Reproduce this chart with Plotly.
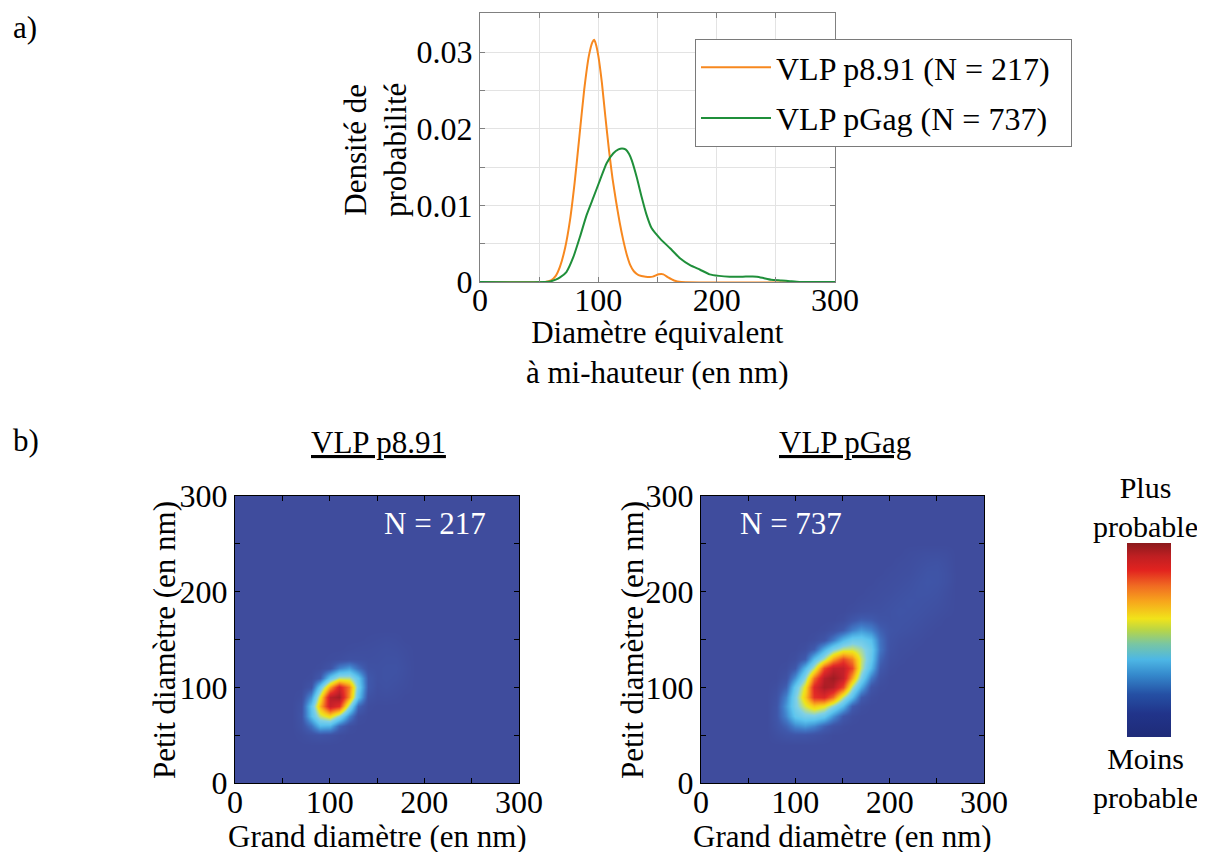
import plotly.graph_objects as go

W, H = 1205, 852
FONT = "Liberation Serif"
OFF = 8  # the page body adds an 8 px margin; place items in window pixels

# ---------------- panel a data ----------------
p891_x = [0, 55, 60, 64, 67.6, 72, 76, 80, 84, 88, 92, 95, 96.5, 98, 100, 103, 106, 109, 112,
          115, 118, 121, 124, 127, 130, 134, 140, 146, 151, 155, 159, 164, 170, 300]
p891_y = [0, 0, 0.0002, 0.0008, 0.002, 0.0045, 0.008, 0.013, 0.019, 0.025, 0.0295, 0.0313,
          0.0316, 0.031, 0.0295, 0.026, 0.0215, 0.0172, 0.0135, 0.0105, 0.0078, 0.0055,
          0.0036, 0.0022, 0.0014, 0.0009, 0.0007, 0.0007, 0.0010, 0.0010, 0.0006, 0.0002, 0, 0]

pgag_x = [0, 55, 60, 64, 67.6, 73, 79, 84.5, 90, 96, 101.4, 107, 112.7, 117, 120, 123, 126,
          128.2, 132.4, 136.6, 140.9, 145.1, 152, 160.6, 169, 177.5, 186, 194, 202, 211, 222,
          234, 240, 246, 255, 262, 270, 300]
pgag_y = [0, 0, 0.0001, 0.0003, 0.0006, 0.0013, 0.0033, 0.0059, 0.0087, 0.0111, 0.0133,
          0.0155, 0.0168, 0.0173, 0.01743, 0.0173, 0.0167, 0.0159, 0.0137, 0.0111, 0.0087,
          0.0070, 0.0057, 0.0044, 0.0031, 0.0022, 0.0016, 0.0010, 0.0008, 0.0007, 0.0007,
          0.0007, 0.0005, 0.0003, 0.0002, 0.0001, 0, 0]

# ---------------- panel b data (relative density, 10 nm grid) ----------------
grid_nm = list(range(0, 301, 10))

p891_cols = list(range(60, 190, 10))   # 60..180
p891_rows = list(range(50, 160, 10))   # 50..150
p891_dens = [
    [0, .007, .026, .038, .027, .007, 0, 0, 0, 0, 0, 0, 0],
    [0, .025, .12, .27, .255, .094, .017, 0, 0, 0, 0, 0, 0],
    [0, .038, .28, .48, .56, .417, .17, .016, 0, 0, 0, 0, 0],
    [0, .032, .305, .63, .91, .836, .436, .097, .006, 0, 0, 0, 0],
    [0, .012, .187, .53, .94, .98, .68, .303, .029, .01, .012, .008, 0],
    [0, 0, .042, .34, .66, .88, .71, .36, .06, .018, .025, .016, .008],
    [0, 0, .005, .07, .33, .47, .465, .311, .06, .025, .03, .025, .012],
    [0, 0, 0, .006, .042, .156, .21, .11, .03, .025, .03, .03, .016],
    [0, 0, 0, 0, .005, .012, .025, .022, .018, .02, .025, .025, .012],
    [0, 0, 0, 0, 0, 0, .005, .01, .012, .016, .02, .016, .008],
    [0, 0, 0, 0, 0, 0, 0, 0, .004, .008, .012, .008, 0],
]

pgag_cols = list(range(80, 270, 10))   # 80..260
pgag_rows = list(range(50, 250, 10))   # 50..240
pgag_dens = [
    [.016, .035, .045, .042, .03, .013, .001, 0, 0, 0, 0, 0, 0, 0, 0, 0, 0, 0, 0],
    [.035, .087, .167, .20, .163, .085, .033, .009, 0, 0, 0, 0, 0, 0, 0, 0, 0, 0, 0],
    [.047, .167, .316, .377, .381, .327, .19, .06, .013, 0, 0, 0, 0, 0, 0, 0, 0, 0, 0],
    [.042, .20, .377, .505, .59, .54, .418, .27, .075, .014, 0, 0, 0, 0, 0, 0, 0, 0, 0],
    [.03, .163, .381, .59, .828, .857, .73, .473, .29, .072, .011, 0, 0, 0, 0, 0, 0, 0, 0],
    [.014, .085, .327, .54, .857, .97, .945, .788, .46, .245, .045, .006, 0, 0, 0, 0, 0, 0, 0],
    [.001, .033, .19, .418, .73, .945, .99, .92, .655, .384, .143, .025, 0, 0, 0, 0, 0, 0, 0],
    [0, .009, .06, .27, .473, .788, .92, .92, .79, .475, .273, .06, .009, 0, 0, 0, 0, 0, 0],
    [0, 0, .013, .075, .29, .46, .655, .79, .70, .49, .324, .094, .018, .008, 0, 0, 0, 0, 0],
    [0, 0, 0, .014, .072, .245, .384, .475, .49, .44, .34, .13, .03, .012, .008, 0, 0, 0, 0],
    [0, 0, 0, 0, .011, .045, .143, .273, .35, .35, .29, .12, .035, .02, .012, .008, 0, 0, 0],
    [0, 0, 0, 0, 0, .006, .025, .07, .15, .2, .16, .08, .04, .032, .025, .016, .008, 0, 0],
    [0, 0, 0, 0, 0, 0, 0, .012, .05, .08, .07, .04, .032, .036, .032, .025, .016, .008, 0],
    [0, 0, 0, 0, 0, 0, 0, 0, .01, .02, .025, .025, .032, .04, .036, .032, .025, .016, .008],
    [0, 0, 0, 0, 0, 0, 0, 0, 0, .008, .012, .016, .025, .032, .04, .036, .032, .025, .012],
    [0, 0, 0, 0, 0, 0, 0, 0, 0, 0, .008, .012, .016, .025, .032, .04, .04, .032, .016],
    [0, 0, 0, 0, 0, 0, 0, 0, 0, 0, 0, .008, .012, .016, .025, .036, .045, .04, .025],
    [0, 0, 0, 0, 0, 0, 0, 0, 0, 0, 0, 0, .008, .012, .016, .028, .04, .04, .025],
    [0, 0, 0, 0, 0, 0, 0, 0, 0, 0, 0, 0, 0, .008, .012, .02, .028, .032, .02],
    [0, 0, 0, 0, 0, 0, 0, 0, 0, 0, 0, 0, 0, 0, .008, .012, .016, .016, .012],
]

xticks_a = [0, 50, 100, 150, 200, 250, 300]
xtext_a = ["0", "", "100", "", "200", "", "300"]
yticks_a = [0, 0.005, 0.01, 0.015, 0.02, 0.025, 0.03, 0.035]
ytext_a = ["0", "", "0.01", "", "0.02", "", "0.03", ""]
ticks_b = [0, 50, 100, 150, 200, 250, 300]
text_b = ["0", "", "100", "", "200", "", "300"]


def full_grid(cols, rows, block):
    z = [[0.0 for _ in grid_nm] for _ in grid_nm]
    for r, yv in enumerate(rows):
        for c, xv in enumerate(cols):
            z[grid_nm.index(yv)][grid_nm.index(xv)] = block[r][c]
    return z


heat_scale = [
    [0.00, '#3F4C9D'], [0.06, '#3F58AB'], [0.14, '#4079C6'], [0.22, '#48A3DD'],
    [0.30, '#5CC4EE'], [0.40, '#7FD0E6'], [0.47, '#B9DD86'], [0.53, '#EDE51C'],
    [0.60, '#F8C61B'], [0.68, '#F7931E'], [0.76, '#EE5A24'], [0.84, '#E22A27'],
    [0.92, '#C4202A'], [1.00, '#9A1C22'],
]
bar_scale = [
    [0.00, '#1F2B78'], [0.12, '#21348A'], [0.22, '#2550A4'], [0.32, '#3589CC'],
    [0.40, '#4DB7E5'], [0.48, '#79C6A2'], [0.55, '#B7D548'], [0.61, '#F1E31A'],
    [0.70, '#F7A51C'], [0.78, '#F06A22'], [0.86, '#E2231F'], [0.93, '#C01F22'],
    [1.00, '#8B1A1C'],
]

fig = go.Figure()


def px(x):
    return (x - OFF) / W


def py(y):
    return 1 - (y - OFF) / H


# panel a curves
fig.add_trace(go.Scatter(x=p891_x, y=p891_y, mode="lines", name="VLP p8.91 (N = 217)\u00a0\u00a0",
                         line=dict(color="#F7881F", width=2, shape="spline", smoothing=0.5),
                         xaxis="x", yaxis="y", legendgroup="a", hoverinfo="skip"))
fig.add_trace(go.Scatter(x=pgag_x, y=pgag_y, mode="lines", name="VLP pGag (N = 737)\u00a0\u00a0",
                         line=dict(color="#1F8F3A", width=2, shape="spline", smoothing=0.5),
                         xaxis="x", yaxis="y", legendgroup="b", hoverinfo="skip"))

# panel b heatmaps
fig.add_trace(go.Heatmap(x=grid_nm, y=grid_nm, z=full_grid(p891_cols, p891_rows, p891_dens),
                         zmin=0, zmax=1, colorscale=heat_scale, zsmooth="best",
                         showscale=False, xaxis="x2", yaxis="y2", hoverinfo="skip"))
fig.add_trace(go.Heatmap(x=grid_nm, y=grid_nm, z=full_grid(pgag_cols, pgag_rows, pgag_dens),
                         zmin=0, zmax=1, colorscale=heat_scale, zsmooth="best",
                         showscale=False, xaxis="x3", yaxis="y3", hoverinfo="skip"))

# colour bar (no data marks)
fig.add_trace(go.Scatter(x=[None], y=[None], mode="markers", showlegend=False,
                         xaxis="x3", yaxis="y3", hoverinfo="skip",
                         marker=dict(color=[0], cmin=0, cmax=1, colorscale=bar_scale,
                                     showscale=True,
                                     colorbar=dict(x=px(1127), xanchor="left", xpad=0,
                                                   y=py(737), yanchor="bottom", ypad=0,
                                                   len=194 / H, lenmode="fraction",
                                                   thickness=44, thicknessmode="pixels",
                                                   outlinewidth=0, showticklabels=False,
                                                   ticks=""))))

TICK = 32
tickfont = dict(family=FONT, size=TICK, color="black")
grid_col = "#E3E3E3"
frame_a = "#808080"

common = dict(zeroline=False, showline=True, linewidth=1, mirror="ticks",
              ticks="inside", ticklen=5, tickfont=tickfont, automargin=False)

fig.update_layout(
    template="none",
    width=W, height=H,
    margin=dict(l=0, r=0, t=0, b=0, autoexpand=False),
    paper_bgcolor="white", plot_bgcolor="white",
    font=dict(family=FONT, size=31, color="black"),
    showlegend=True,
    legend=dict(x=px(695), y=py(39), xanchor="left", yanchor="top",
                bgcolor="white", bordercolor="#7A7A7A", borderwidth=1,
                font=dict(family=FONT, size=32, color="black"),
                tracegroupgap=6, itemwidth=70, traceorder="grouped"),
    xaxis=dict(domain=[px(480), px(835)], range=[0, 300], tickvals=xticks_a, ticktext=xtext_a,
               showgrid=True, gridcolor=grid_col, gridwidth=1, linecolor=frame_a,
               tickcolor=frame_a, anchor="y", ticklabelstandoff=-10, **common),
    yaxis=dict(domain=[py(282), py(13)], range=[0, 0.0351], tickvals=yticks_a, ticktext=ytext_a,
               showgrid=True, gridcolor=grid_col, gridwidth=1, linecolor=frame_a,
               tickcolor=frame_a, anchor="x", **common),
    xaxis2=dict(domain=[px(235), px(519)], range=[0, 300], tickvals=ticks_b, ticktext=text_b,
                showgrid=False, linecolor="black", tickcolor="black", anchor="y2",
                ticklabelstandoff=-9, **common),
    yaxis2=dict(domain=[py(783), py(496)], range=[0, 300], tickvals=ticks_b, ticktext=text_b,
                showgrid=False, linecolor="black", tickcolor="black", anchor="x2", **common),
    xaxis3=dict(domain=[px(701), px(984)], range=[0, 300], tickvals=ticks_b, ticktext=text_b,
                showgrid=False, linecolor="black", tickcolor="black", anchor="y3",
                ticklabelstandoff=-9, **common),
    yaxis3=dict(domain=[py(783), py(496)], range=[0, 300], tickvals=ticks_b, ticktext=text_b,
                showgrid=False, linecolor="black", tickcolor="black", anchor="x3", **common),
)


def note(text, x, y, angle=0, color="black", size=31, xanchor="center"):
    fig.add_annotation(text=text, x=px(x), y=py(y), xref="paper", yref="paper",
                       xanchor=xanchor, yanchor="middle", showarrow=False, textangle=angle,
                       font=dict(family=FONT, size=size, color=color))


note("a)", 11, 27, xanchor="left")
note("b)", 11, 441, xanchor="left")
note("Densité de<br>probabilité", 376, 150, angle=-90)
note("Diamètre équivalent<br>à mi-hauteur (en nm)", 657, 352)
note("<u>VLP p8.91</u>", 378, 442)
note("<u>VLP pGag</u>", 845, 442)
note("Petit diamètre (en nm)", 164, 640, angle=-90)
note("Petit diamètre (en nm)", 632, 640, angle=-90)
note("Grand diamètre (en nm)", 377, 836)
note("Grand diamètre (en nm)", 842, 836)
note("N = 217", 435, 523, color="white")
note("N = 737", 791, 523, color="white")
note("Plus<br>probable", 1145, 507, size=30)
note("Moins<br>probable", 1145, 778, size=30)

fig.write_html("out.html")
